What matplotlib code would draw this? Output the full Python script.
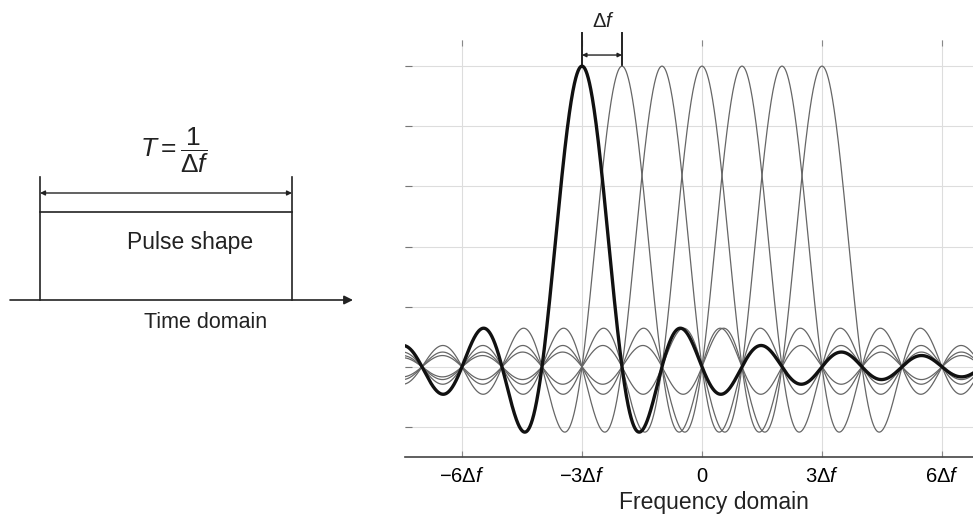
import numpy as np
import matplotlib
matplotlib.use("Agg")
import matplotlib.pyplot as plt

plt.rcParams["font.family"] = ["Liberation Sans", "DejaVu Sans"]
plt.rcParams["mathtext.fontset"] = "custom"
plt.rcParams["mathtext.rm"] = "Liberation Sans"
plt.rcParams["mathtext.it"] = "Liberation Sans:italic"
plt.rcParams["mathtext.bf"] = "Liberation Sans:bold"

# subcarrier centres (in units of delta f); the first one is drawn bold
subcarriers = [-3, -2, -1, 0, 1, 2, 3]
bold_carrier = -3
tick_pos = [-6, -3, 0, 3, 6]
tick_labels = [r"$-6\Delta f$", r"$-3\Delta f$", "0", r"$3\Delta f$", r"$6\Delta f$"]
y_grid = [-0.2, 0.0, 0.2, 0.4, 0.6, 0.8, 1.0]

W, H = 973, 515
fig = plt.figure(figsize=(W / 100, H / 100), dpi=100)

# ---- left: time domain pulse, drawn in pixel coordinates ----
ax0 = fig.add_axes([0, 0, 1, 1])
ax0.set_xlim(0, W)
ax0.set_ylim(H, 0)
ax0.axis("off")
ink = "#222222"

t0, t1 = 40, 292          # pulse edges
base_y, top_y = 300, 212  # baseline and pulse top
ax0.annotate("", xy=(353, base_y), xytext=(10, base_y),
             arrowprops=dict(arrowstyle="-|>", lw=1.2, color=ink,
                             mutation_scale=13, shrinkA=0, shrinkB=0))
ax0.plot([t0, t0], [177, base_y], color=ink, lw=1.2)
ax0.plot([t1, t1], [177, base_y], color=ink, lw=1.2)
ax0.plot([t0, t1], [top_y, top_y], color=ink, lw=1.2)
ax0.annotate("", xy=(t1, 193), xytext=(t0, 193),
             arrowprops=dict(arrowstyle="<|-|>", lw=1.0, color=ink,
                             mutation_scale=7, shrinkA=0, shrinkB=0))
ax0.text(175, 150, r"$T = \dfrac{1}{\Delta f}$", fontsize=19,
         ha="center", va="center", color=ink)
ax0.text(190, 243, "Pulse shape", fontsize=16.5, ha="center", va="center", color=ink)
ax0.text(206, 323, "Time domain", fontsize=15.5, ha="center", va="center", color=ink)

# ---- right: frequency domain sinc spectra ----
left, right, bottom, top = 405, 973, 457, 40
ax = fig.add_axes([left / W, (H - bottom) / H, (right - left) / W, (bottom - top) / H])
ax.set_zorder(2)
ax.patch.set_alpha(0)

f = np.linspace(-7.6, 7.0, 3000)
for k in subcarriers:
    if k == bold_carrier:
        continue
    ax.plot(f, np.sinc(f - k), color="#666666", lw=0.9, zorder=3)
ax.plot(f, np.sinc(f - bold_carrier), color="#111111", lw=2.4, zorder=4)

ax.set_xlim(-7.425, 6.775)
ax.set_ylim(-0.3, 1.087)
ax.set_xticks(tick_pos)
ax.set_xticklabels(tick_labels, fontsize=14.5)
ax.set_yticks(y_grid)
ax.set_yticklabels([])
ax.grid(True, color="#dddddd", lw=0.8, zorder=0)
for s in ["left", "right", "top"]:
    ax.spines[s].set_visible(False)
ax.spines["bottom"].set_color("#444444")
ax.spines["bottom"].set_linewidth(1.2)
ax.tick_params(axis="x", direction="in", length=4, color="#888888", pad=7, top=True)
ax.tick_params(axis="y", direction="in", length=5, color="#777777")

# delta f spacing marker between the first two carriers
ax.plot([-3, -3], [1.0, 1.11], color=ink, lw=1.4, clip_on=False)
ax.plot([-2, -2], [1.0, 1.11], color=ink, lw=1.4, clip_on=False)
ax.annotate("", xy=(-2, 1.037), xytext=(-3, 1.037), annotation_clip=False,
            arrowprops=dict(arrowstyle="<|-|>", lw=1.0, color=ink,
                            mutation_scale=6, shrinkA=0, shrinkB=0))
ax.text(-2.47, 1.147, r"$\Delta f$", fontsize=14.5, ha="center", va="center",
        color=ink, clip_on=False)

fig.text(714 / W, (H - 503) / H, "Frequency domain", fontsize=16.5,
         ha="center", va="center", color=ink)

fig.savefig("out.png", dpi=100)
